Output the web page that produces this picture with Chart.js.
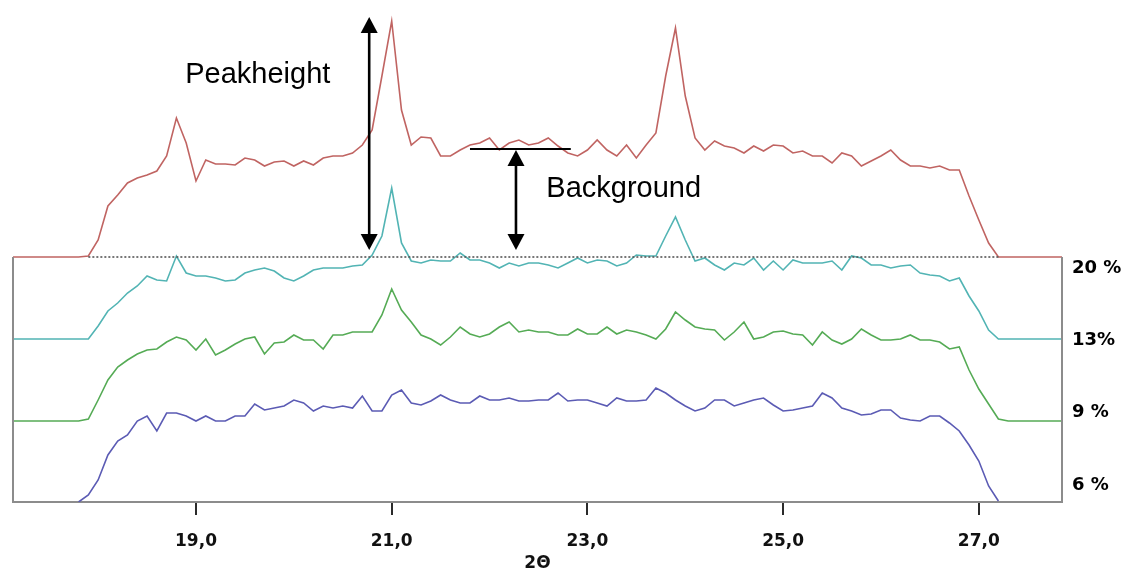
<!DOCTYPE html>
<html lang="en">
<head>
  <meta charset="UTF-8" />
  <title>2Θ scan</title>
  <script src="https://cdn.jsdelivr.net/npm/chart.js"></script>
  <style>
    body { margin: 0; background: #fff; }
  </style>
</head>
<body>
  <canvas id="scanChart" width="1126" height="575"></canvas>

  <script>
    // 2-theta positions (degrees)
    const thetas = [
      17.1,
      17.8, 17.9,
      18.0, 18.1, 18.2, 18.3, 18.4, 18.5, 18.6, 18.7, 18.8, 18.9,
      19.0, 19.1, 19.2, 19.3, 19.4, 19.5, 19.6, 19.7, 19.8, 19.9,
      20.0, 20.1, 20.2, 20.3, 20.4, 20.5, 20.6, 20.7, 20.8, 20.9,
      21.0, 21.1, 21.2, 21.3, 21.4, 21.5, 21.6, 21.7, 21.8, 21.9,
      22.0, 22.1, 22.2, 22.3, 22.4, 22.5, 22.6, 22.7, 22.8, 22.9,
      23.0, 23.1, 23.2, 23.3, 23.4, 23.5, 23.6, 23.7, 23.8, 23.9,
      24.0, 24.1, 24.2, 24.3, 24.4, 24.5, 24.6, 24.7, 24.8, 24.9,
      25.0, 25.1, 25.2, 25.3, 25.4, 25.5, 25.6, 25.7, 25.8, 25.9,
      26.0, 26.1, 26.2, 26.3, 26.4, 26.5, 26.6, 26.7, 26.8, 26.9,
      27.0, 27.1, 27.2, 27.3,
      27.9
    ];

    // intensity above each trace's own baseline
    const sample20 = [
      0,
      0, 1,
      17, 51, 62, 74, 79, 82, 86, 101, 139, 114,
      76, 97, 93, 93, 92, 99, 97, 91, 95, 96,
      91, 96, 92, 99, 101, 101, 104, 112, 127, 181,
      236, 147, 112, 120, 119, 101, 101, 107, 112, 114,
      119, 107, 114, 117, 112, 114, 119, 111, 104, 101,
      107, 117, 107, 101, 112, 99, 112, 124, 181, 229,
      161, 119, 107, 116, 111, 109, 104, 111, 106, 112,
      111, 104, 106, 101, 101, 94, 104, 101, 91, 96,
      101, 107, 97, 91, 91, 89, 91, 87, 87, 61,
      37, 14, 0, 0,
      0
    ];
    const sample13 = [
      0,
      0, 0,
      13, 28, 36, 46, 53, 63, 59, 58, 83, 66,
      63, 63, 61, 58, 59, 66, 69, 71, 68, 61,
      58, 63, 69, 71, 71, 71, 73, 74, 84, 103,
      151, 96, 78, 76, 79, 78, 78, 86, 79, 79,
      76, 71, 76, 73, 76, 76, 74, 71, 76, 81,
      76, 79, 78, 73, 76, 84, 83, 83, 103, 122,
      99, 78, 81, 74, 69, 76, 74, 81, 69, 78,
      69, 79, 76, 76, 76, 78, 69, 83, 81, 74,
      74, 71, 73, 74, 66, 64, 63, 58, 61, 43,
      28, 9, 0, 0,
      0
    ];
    const sample9 = [
      0,
      0, 2,
      21, 41, 54, 61, 67, 71, 72, 79, 84, 81,
      71, 82, 66, 71, 77, 82, 84, 67, 78, 79,
      86, 81, 81, 72, 86, 86, 89, 89, 89, 106,
      132, 111, 99, 86, 82, 76, 84, 94, 87, 84,
      87, 94, 99, 89, 91, 89, 89, 86, 86, 92,
      87, 87, 94, 87, 91, 89, 86, 82, 92, 109,
      101, 94, 92, 91, 81, 89, 99, 82, 84, 89,
      90, 87, 86, 76, 89, 81, 77, 82, 92, 86,
      81, 81, 82, 86, 81, 81, 79, 72, 74, 51,
      32, 17, 2, 0,
      0
    ];
    const sample6 = [
      null,
      0, 7,
      22, 47, 61, 67, 81, 86, 71, 89, 89, 86,
      81, 86, 81, 81, 86, 86, 98, 92, 94, 96,
      102, 99, 91, 96, 94, 96, 94, 106, 91, 91,
      107, 112, 99, 97, 101, 107, 102, 99, 99, 106,
      102, 102, 104, 101, 101, 102, 102, 109, 101, 102,
      102, 99, 96, 104, 101, 101, 102, 114, 109, 102,
      96, 91, 94, 102, 102, 96, 99, 102, 104, 97,
      91, 92, 94, 96, 109, 104, 94, 91, 87, 88,
      92, 92, 84, 82, 81, 86, 86, 79, 71, 57,
      41, 16, 1, null,
      null
    ];

    const seriesLabels = ["20 %", "13%", "9 %", "6 %"];
    const seriesData = [sample20, sample13, sample9, sample6];
    const offsets = [245, 163, 81, 0];   // vertical stacking offset of each trace
    const colors = ["#c06462", "#52b4b4", "#55ab55", "#5b5bb4"];
    const tickValues = [19, 21, 23, 25, 27];

    // where red trace leaves / returns to its baseline -> dotted background line
    const firstIdx = sample20.findIndex(v => v > 0);
    const lastIdx = sample20.length - 1 - [...sample20].reverse().findIndex(v => v > 0) + 1;

    const datasets = seriesData.map((vals, i) => ({
      label: seriesLabels[i],
      data: thetas.map((t, k) => ({ x: t, y: vals[k] === null ? null : vals[k] + offsets[i] })),
      borderColor: colors[i],
      borderWidth: 1.6,
      pointRadius: 0,
      tension: 0,
      order: 2 + i
    }));
    datasets.push({
      label: "baseline",
      data: [
        { x: thetas[firstIdx], y: offsets[0] },
        { x: thetas[lastIdx], y: offsets[0] }
      ],
      borderColor: "#555",
      borderWidth: 1.6,
      borderDash: [2, 2],
      pointRadius: 0,
      order: 1
    });

    function doubleArrow(ctx, px, yTop, yBot) {
      const head = 16, half = 8.5;
      ctx.lineWidth = 2.6;
      ctx.beginPath();
      ctx.moveTo(px, yTop + head - 2);
      ctx.lineTo(px, yBot - head + 2);
      ctx.stroke();
      ctx.beginPath();
      ctx.moveTo(px, yTop);
      ctx.lineTo(px - half, yTop + head);
      ctx.lineTo(px + half, yTop + head);
      ctx.closePath();
      ctx.fill();
      ctx.beginPath();
      ctx.moveTo(px, yBot);
      ctx.lineTo(px - half, yBot - head);
      ctx.lineTo(px + half, yBot - head);
      ctx.closePath();
      ctx.fill();
    }

    const overlay = {
      id: "overlay",
      afterDatasetsDraw(chart) {
        const { ctx, chartArea } = chart;
        const x = chart.scales.x, y = chart.scales.y;
        ctx.save();

        // left and right frame lines
        ctx.strokeStyle = "#8c8c8c";
        ctx.lineWidth = 2;
        const frameTop = y.getPixelForValue(offsets[0]);
        [chartArea.left, chartArea.right].forEach(px => {
          ctx.beginPath();
          ctx.moveTo(px, frameTop);
          ctx.lineTo(px, chartArea.bottom + 1);
          ctx.stroke();
        });

        // annotations
        ctx.strokeStyle = "#000";
        ctx.fillStyle = "#000";
        doubleArrow(ctx, x.getPixelForValue(20.77), y.getPixelForValue(485), y.getPixelForValue(252));
        doubleArrow(ctx, x.getPixelForValue(22.27), y.getPixelForValue(352), y.getPixelForValue(252));
        ctx.lineWidth = 1.8;
        ctx.beginPath();
        ctx.moveTo(x.getPixelForValue(21.8), y.getPixelForValue(353));
        ctx.lineTo(x.getPixelForValue(22.83), y.getPixelForValue(353));
        ctx.stroke();

        ctx.font = '29px "Liberation Sans", Arial, sans-serif';
        ctx.textAlign = "left";
        ctx.textBaseline = "alphabetic";
        ctx.fillText("Peakheight", x.getPixelForValue(18.89), y.getPixelForValue(419));
        ctx.fillText("Background", x.getPixelForValue(22.58), y.getPixelForValue(305));

        // concentration labels on the right
        ctx.font = 'bold 18px "DejaVu Sans", sans-serif';
        ctx.textBaseline = "middle";
        seriesLabels.forEach((lab, i) => {
          ctx.fillText(lab, chartArea.right + 10, chartArea.top + 268 + i * 72.3);
        });
        ctx.restore();
      }
    };

    new Chart(document.getElementById("scanChart"), {
      type: "line",
      data: { datasets },
      options: {
        responsive: false,
        animation: false,
        layout: { padding: { left: 13, right: 64, top: 0, bottom: 0 } },
        plugins: {
          legend: { display: false },
          tooltip: { enabled: false }
        },
        scales: {
          x: {
            type: "linear",
            min: 17.13,
            max: 27.85,
            afterBuildTicks: axis => { axis.ticks = tickValues.map(v => ({ value: v })); },
            afterFit: axis => { axis.height = 73; },
            grid: { drawOnChartArea: false, tickLength: 13, color: "#2a2a2a", lineWidth: 2 },
            border: { color: "#8c8c8c", width: 2 },
            ticks: {
              padding: 16,
              color: "#111",
              font: { family: "DejaVu Sans", size: 17, weight: "bold" },
              callback: v => v.toFixed(1).replace(".", ",")
            },
            title: {
              display: true,
              text: "2Θ",
              color: "#111",
              padding: { top: 0, bottom: 1 },
              font: { family: "DejaVu Sans", size: 17, weight: "bold" }
            }
          },
          y: { display: false, min: 0, max: 502 }
        }
      },
      plugins: [overlay]
    });
  </script>
</body>
</html>
